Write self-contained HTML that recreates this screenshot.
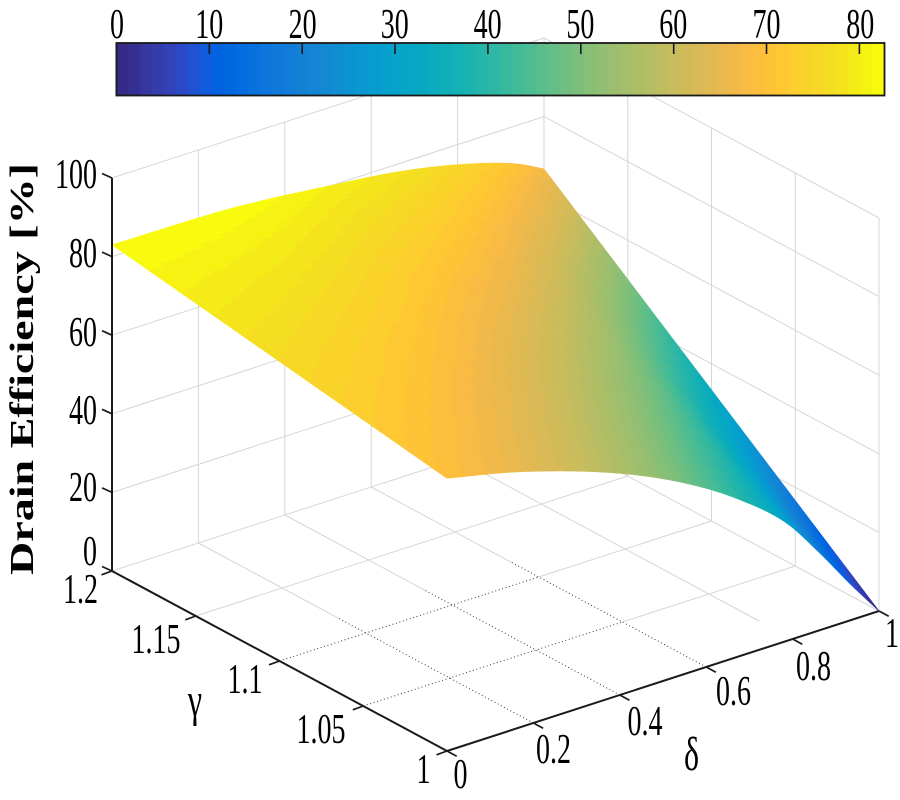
<!DOCTYPE html>
<html><head><meta charset="utf-8">
<style>
html,body{margin:0;padding:0;background:#fff;}
svg{display:block;}
text{font-family:"Liberation Serif","DejaVu Serif",serif;fill:#000;}
</style></head><body>
<svg id="svg" width="900" height="800" viewBox="0 0 900 800" xmlns="http://www.w3.org/2000/svg">
<rect width="900" height="800" fill="#fff"/>
<g id="grid"></g>
<g id="surf"></g>
<g id="axes"></g>
<g id="cbar"></g>
<g id="labels">
  <!-- colorbar labels -->
  <text transform="translate(117,38) scale(0.667,1)" text-anchor="middle" font-size="42">0</text>
  <text transform="translate(209.3,38) scale(0.667,1)" text-anchor="middle" font-size="42">10</text>
  <text transform="translate(302.6,38) scale(0.667,1)" text-anchor="middle" font-size="42">20</text>
  <text transform="translate(394.8,38) scale(0.667,1)" text-anchor="middle" font-size="42">30</text>
  <text transform="translate(487.6,38) scale(0.667,1)" text-anchor="middle" font-size="42">40</text>
  <text transform="translate(580.4,38) scale(0.667,1)" text-anchor="middle" font-size="42">50</text>
  <text transform="translate(673.2,38) scale(0.667,1)" text-anchor="middle" font-size="42">60</text>
  <text transform="translate(766.5,38) scale(0.667,1)" text-anchor="middle" font-size="42">70</text>
  <text transform="translate(860.3,38) scale(0.667,1)" text-anchor="middle" font-size="42">80</text>
  <!-- z labels -->
  <text transform="translate(97,188) scale(0.667,1)" text-anchor="end" font-size="42">100</text>
  <text transform="translate(97,267) scale(0.667,1)" text-anchor="end" font-size="42">80</text>
  <text transform="translate(97,346) scale(0.667,1)" text-anchor="end" font-size="42">60</text>
  <text transform="translate(97,424) scale(0.667,1)" text-anchor="end" font-size="42">40</text>
  <text transform="translate(97,501) scale(0.667,1)" text-anchor="end" font-size="42">20</text>
  <text transform="translate(97,565) scale(0.667,1)" text-anchor="end" font-size="42">0</text>
  <!-- gamma labels -->
  <text transform="translate(80.5,603) scale(0.667,1)" text-anchor="middle" font-size="42">1.2</text>
  <text transform="translate(156,653) scale(0.667,1)" text-anchor="middle" font-size="42">1.15</text>
  <text transform="translate(245,693) scale(0.667,1)" text-anchor="middle" font-size="42">1.1</text>
  <text transform="translate(321,743) scale(0.667,1)" text-anchor="middle" font-size="42">1.05</text>
  <text transform="translate(423.5,783) scale(0.667,1)" text-anchor="middle" font-size="42">1</text>
  <!-- delta labels -->
  <text transform="translate(460.5,788) scale(0.667,1)" text-anchor="middle" font-size="42">0</text>
  <text transform="translate(553.5,763) scale(0.667,1)" text-anchor="middle" font-size="42">0.2</text>
  <text transform="translate(645,735) scale(0.667,1)" text-anchor="middle" font-size="42">0.4</text>
  <text transform="translate(733.5,705) scale(0.667,1)" text-anchor="middle" font-size="42">0.6</text>
  <text transform="translate(813.5,680) scale(0.667,1)" text-anchor="middle" font-size="42">0.8</text>
  <text transform="translate(892,647) scale(0.667,1)" text-anchor="middle" font-size="42">1</text>
  <!-- axis labels -->
  <text transform="translate(195,716) scale(0.667,1)" text-anchor="middle" font-size="48">γ</text>
  <text transform="translate(691.5,770) scale(0.667,1)" text-anchor="middle" font-size="48">δ</text>
  <text transform="translate(33,369) rotate(-90)" text-anchor="middle" font-size="34" font-weight="bold" textLength="412" lengthAdjust="spacingAndGlyphs">Drain Efficiency [%]</text>
</g>
</svg>
<script>
(function(){
const P=(s,t,q)=>[447+432*s-335*t, 751-140*s-180*t-393*q];
function ln(a,b,at){return '<line x1="'+a[0].toFixed(1)+'" y1="'+a[1].toFixed(1)+'" x2="'+b[0].toFixed(1)+'" y2="'+b[1].toFixed(1)+'" '+at+'/>';}
const G='stroke="#d6d6d6" stroke-width="1"';
const DOT='stroke="#3a3a3a" stroke-width="1" stroke-dasharray="1 2.6"';
let g='';
for(const s of [0.2,0.4,0.6,0.8,1]) g+=ln(P(s,1,0),P(s,1,1),G);
for(const q of [0,0.2,0.4,0.6,0.8,1]) g+=ln(P(0,1,q),P(1,1,q),G);
for(const t of [0,0.25,0.5,0.75]) g+=ln(P(1,t,0),P(1,t,1),G);
for(const q of [0,0.2,0.4,0.6,0.8,1]) g+=ln(P(1,0,q),P(1,1,q),G);
for(const s of [0.2,0.4,0.6]){g+=ln(P(s,0,0),P(s,0.58,0),DOT);g+=ln(P(s,0.58,0),P(s,1,0),G);}
g+=ln(P(0.8,0.1,0),P(0.8,1,0),G);
for(const t of [0.25,0.5]){g+=ln(P(0,t,0),P(0.6,t,0),DOT);g+=ln(P(0.6,t,0),P(1,t,0),G);}
g+=ln(P(0,0.75,0),P(1,0.75,0),G);
document.getElementById('grid').innerHTML=g;

const PAR=[[0.2081,0.1663,0.5292],[0.2116,0.1898,0.5777],[0.2123,0.2138,0.6270],[0.2081,0.2386,0.6771],[0.1959,0.2645,0.7279],[0.1707,0.2919,0.7792],[0.1253,0.3242,0.8303],[0.0591,0.3598,0.8683],[0.0117,0.3875,0.8820],[0.0060,0.4086,0.8828],[0.0165,0.4266,0.8786],[0.0329,0.4430,0.8720],[0.0498,0.4586,0.8641],[0.0629,0.4737,0.8554],[0.0723,0.4887,0.8467],[0.0779,0.5040,0.8384],[0.0793,0.5200,0.8312],[0.0749,0.5375,0.8263],[0.0641,0.5570,0.8240],[0.0488,0.5772,0.8228],[0.0343,0.5966,0.8199],[0.0265,0.6137,0.8135],[0.0239,0.6287,0.8038],[0.0231,0.6418,0.7913],[0.0228,0.6535,0.7768],[0.0267,0.6642,0.7607],[0.0384,0.6743,0.7436],[0.0590,0.6838,0.7254],[0.0843,0.6928,0.7062],[0.1133,0.7015,0.6859],[0.1453,0.7098,0.6646],[0.1801,0.7177,0.6424],[0.2178,0.7250,0.6193],[0.2586,0.7317,0.5954],[0.3022,0.7376,0.5712],[0.3482,0.7424,0.5473],[0.3953,0.7459,0.5244],[0.4420,0.7481,0.5033],[0.4871,0.7491,0.4840],[0.5300,0.7491,0.4661],[0.5709,0.7485,0.4494],[0.6099,0.7473,0.4337],[0.6473,0.7456,0.4188],[0.6834,0.7435,0.4044],[0.7184,0.7411,0.3905],[0.7525,0.7384,0.3768],[0.7858,0.7356,0.3633],[0.8185,0.7327,0.3498],[0.8507,0.7299,0.3360],[0.8824,0.7274,0.3217],[0.9139,0.7258,0.3063],[0.9450,0.7261,0.2886],[0.9739,0.7314,0.2666],[0.9938,0.7455,0.2403],[0.9990,0.7653,0.2164],[0.9955,0.7861,0.1967],[0.9880,0.8066,0.1794],[0.9789,0.8271,0.1633],[0.9697,0.8481,0.1475],[0.9626,0.8705,0.1309],[0.9589,0.8949,0.1132],[0.9598,0.9218,0.0948],[0.9661,0.9514,0.0755],[0.9763,0.9831,0.0538]];
const col=k=>'rgb('+Math.round(PAR[k][0]*255)+','+Math.round(PAR[k][1]*255)+','+Math.round(PAR[k][2]*255)+')';
const VMAX=82.7;
const idx=v=>Math.max(0,Math.min(63,Math.floor(v/VMAX*64)));

function mkInterp(xs,ys){
  const n=xs.length,m=[];
  for(let k=0;k<n;k++){
    if(k===0)m.push((ys[1]-ys[0])/(xs[1]-xs[0]));
    else if(k===n-1)m.push((ys[n-1]-ys[n-2])/(xs[n-1]-xs[n-2]));
    else{const a=(ys[k]-ys[k-1])/(xs[k]-xs[k-1]),b=(ys[k+1]-ys[k])/(xs[k+1]-xs[k]);m.push(a*b<=0?0:(a+b)/2);}
  }
  return function(x){
    for(let k=1;k<n;k++){
      if(x<=xs[k]||k===n-1){
        const h=xs[k]-xs[k-1],u=Math.max(0,Math.min(1,(x-xs[k-1])/h));
        const h00=2*u*u*u-3*u*u+1,h10=u*u*u-2*u*u+u,h01=-2*u*u*u+3*u*u,h11=u*u*u-u*u;
        return h00*ys[k-1]+h10*h*m[k-1]+h01*ys[k]+h11*h*m[k];
      }
    }
  };
}
const Fr=mkInterp([0,0.17,0.40,0.555,0.67,0.786,0.863,0.94,1],[69.4,65.0,56.4,48.3,40.4,30.0,19.6,8.3,0]);
const Bk=mkInterp([0,0.28,0.51,0.667,0.821,0.937,1],[83,82.4,80,77.9,74.3,70.2,66.7]);
function eta(s,t){
  const F=Fr(s),T=Bk(s),L=69.4+13.6*t,R=66.7*t;
  const B=(1-s)*(1-t)*69.4+(1-s)*t*83+s*t*66.7;
  return Math.max(0,(1-t)*F+t*T+(1-s)*L+s*R-B);
}
const N=90;
const E=[];
for(let i=0;i<=N;i++){E.push([]);for(let j=0;j<=N;j++)E[i].push(eta(i/N,j/N));}
const faces=[];
for(let i=0;i<N;i++)for(let j=0;j<N;j++){
  const cs=[[i,j],[i+1,j],[i+1,j+1],[i,j+1]];
  let v=0,d=0;const pts=[];
  for(const [a,b] of cs){const s=a/N,t=b/N,z=E[a][b];v+=z;d+=305*s+392*t-180*z/100;pts.push(P(s,t,z/100));}
  faces.push({v:v/4,d:d/4,pts});
}
faces.sort((a,b)=>b.d-a.d);
let sh='';
for(const f of faces){
  const c=col(idx(f.v));
  sh+='<path d="M'+f.pts.map(p=>p[0].toFixed(2)+' '+p[1].toFixed(2)).join('L')+'Z" fill="'+c+'" stroke="'+c+'" stroke-width="0.6" stroke-linejoin="round"/>';
}
document.getElementById('surf').innerHTML=sh;

const AX='stroke="#1a1a1a" stroke-width="2"';
const TK='stroke="#1a1a1a" stroke-width="1.7"';
let a='';
a+=ln(P(0,1,0),P(0,1,1),AX);
a+=ln(P(0,1,0),P(0,0,0),AX);
a+=ln(P(0,0,0),P(1,0,0),AX);
for(const q of [0,0.2,0.4,0.6,0.8,1]){const p=P(0,1,q);a+=ln(p,[p[0]-10,p[1]-4.5],TK);}
for(const t of [0,0.25,0.5,0.75,1]){const p=P(0,t,0);a+=ln(p,[p[0]-10.5,p[1]+3.8],TK);}
for(const s of [0,0.2,0.4,0.6,0.8,1]){const p=P(s,0,0);a+=ln(p,[p[0]+9.7,p[1]+5.2],TK);}
document.getElementById('axes').innerHTML=a;

const x0=116.4,x1=884.5,y0=43,y1=95.5,w=(x1-x0)/64;
let c='';
for(let k=0;k<64;k++){c+='<rect x="'+(x0+k*w).toFixed(2)+'" y="'+y0+'" width="'+(w+0.6).toFixed(2)+'" height="'+(y1-y0)+'" fill="'+col(k)+'"/>';}
c+='<rect x="'+x0+'" y="'+y0+'" width="'+(x1-x0)+'" height="'+(y1-y0)+'" fill="none" stroke="#1a1a1a" stroke-width="1.8"/>';
for(let v=10;v<=80;v+=10){const x=x0+v*(x1-x0)/VMAX;c+=ln([x,y0],[x,y0+11],'stroke="#1a1a1a" stroke-width="1.6"');}
document.getElementById('cbar').innerHTML=c;
})();
</script>
</body></html>
